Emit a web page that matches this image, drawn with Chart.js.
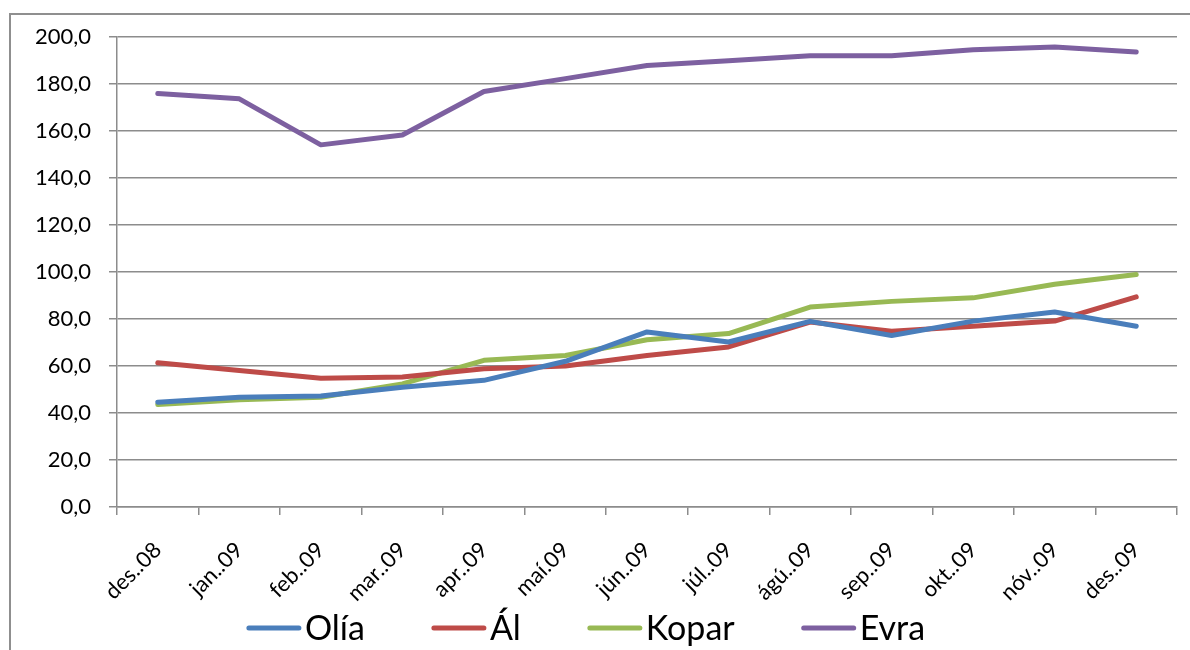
<!DOCTYPE html>
<html>
<head>
<meta charset="utf-8">
<script src="https://cdn.jsdelivr.net/npm/chart.js@4.4.1/dist/chart.umd.min.js"></script>
<style>
  html, body { margin: 0; padding: 0; background: #fff; overflow: hidden; }
  #frame { position: absolute; left: 9px; top: 13px; width: 1300px; height: 800px; border: 2px solid #8f8f8f; }
  #wrap { position: absolute; left: 0; top: 0; width: 1190px; height: 650px; }
</style>
</head>
<body>
<div id="frame"></div>
<div id="wrap"><canvas id="chart"></canvas></div>
<script>
// months on the x axis
var months = ['des..08', 'jan..09', 'feb..09', 'mar..09', 'apr..09', 'maí.09', 'jún..09',
              'júl..09', 'ágú..09', 'sep..09', 'okt..09', 'nóv..09', 'des..09'];

// series
var olia  = [44.6, 46.7, 47.2, 51.0, 53.9, 62.0, 74.5, 70.2, 79.0, 73.0, 79.1, 83.0, 76.9];
var al    = [61.4, 58.1, 54.8, 55.3, 58.8, 60.0, 64.5, 68.1, 78.7, 74.8, 76.9, 79.1, 89.4];
var kopar = [43.6, 45.6, 46.7, 52.4, 62.4, 64.5, 71.2, 73.8, 85.1, 87.5, 89.0, 94.8, 98.9];
var evra  = [176.0, 173.7, 154.1, 158.3, 176.8, 182.3, 187.9, 189.9, 192.0, 192.0, 194.6, 195.7, 193.6];

var seriesNames = ['Olía', 'Ál', 'Kopar', 'Evra'];
var seriesColors = ['#4a7ebb', '#be4b48', '#98b954', '#7d60a0'];

var gridGray = '#8c8c8c';
var fontFamily = 'Lato, "Liberation Sans", sans-serif';

function makeSet(i, values) {
    return {
        label: seriesNames[i],
        data: values,
        borderColor: seriesColors[i],
        backgroundColor: seriesColors[i],
        borderWidth: 5,
        borderCapStyle: 'round',
        borderJoinStyle: 'round',
        pointRadius: 0,
        tension: 0,
        fill: false
    };
}

// excel style legend: long line, text right after it, wide gaps between items
var bottomLegend = {
    id: 'bottomLegend',
    afterDraw: function(chart) {
        var c = chart.ctx;
        var lineW = 54, gap = 4, spacing = 67, centerX = 586, y = 628;
        c.save();
        c.font = '34px ' + fontFamily;
        c.textBaseline = 'middle';
        var widths = chart.data.datasets.map(function(ds) {
            return lineW + gap + c.measureText(ds.label).width;
        });
        var total = widths.reduce(function(a, b) { return a + b; }, 0) + spacing * (widths.length - 1);
        var x = centerX - total / 2;
        chart.data.datasets.forEach(function(ds, i) {
            c.strokeStyle = ds.borderColor;
            c.lineWidth = 5;
            c.lineCap = 'round';
            c.beginPath();
            c.moveTo(x + 2, y);
            c.lineTo(x + lineW - 2, y);
            c.stroke();
            c.fillStyle = '#000';
            c.fillText(ds.label, x + lineW + gap, y + 1);
            x += widths[i] + spacing;
        });
        c.restore();
    }
};

var ctx = document.getElementById('chart').getContext('2d');
var chart = new Chart(ctx, {
    type: 'line',
    data: {
        labels: months,
        datasets: [makeSet(0, olia), makeSet(1, al), makeSet(2, kopar), makeSet(3, evra)]
    },
    plugins: [bottomLegend],
    options: {
        responsive: true,
        maintainAspectRatio: false,
        animation: false,
        layout: {
            padding: { top: 37, right: 13, left: 0, bottom: 48 }
        },
        plugins: {
            tooltip: { enabled: false },
            legend: { display: false }
        },
        scales: {
            x: {
                offset: true,
                grid: {
                    offset: true,
                    drawOnChartArea: false,
                    color: gridGray,
                    lineWidth: 1.5,
                    tickLength: 8
                },
                border: { color: gridGray, width: 1.5 },
                ticks: {
                    autoSkip: false,
                    maxRotation: 45,
                    minRotation: 45,
                    padding: 22,
                    color: '#000',
                    font: { family: fontFamily, size: 22 }
                },
                afterFit: function(scale) { scale.height = 95; }
            },
            y: {
                min: 0,
                max: 200,
                grid: {
                    color: gridGray,
                    lineWidth: 1.5,
                    tickLength: 8
                },
                border: { color: gridGray, width: 1.5 },
                ticks: {
                    stepSize: 20,
                    padding: 18,
                    color: '#000',
                    font: { family: fontFamily, size: 22 },
                    callback: function(v) { return v.toFixed(1).replace('.', ','); }
                },
                afterFit: function(scale) { scale.width = 117; }
            }
        }
    }
});
</script>
</body>
</html>
